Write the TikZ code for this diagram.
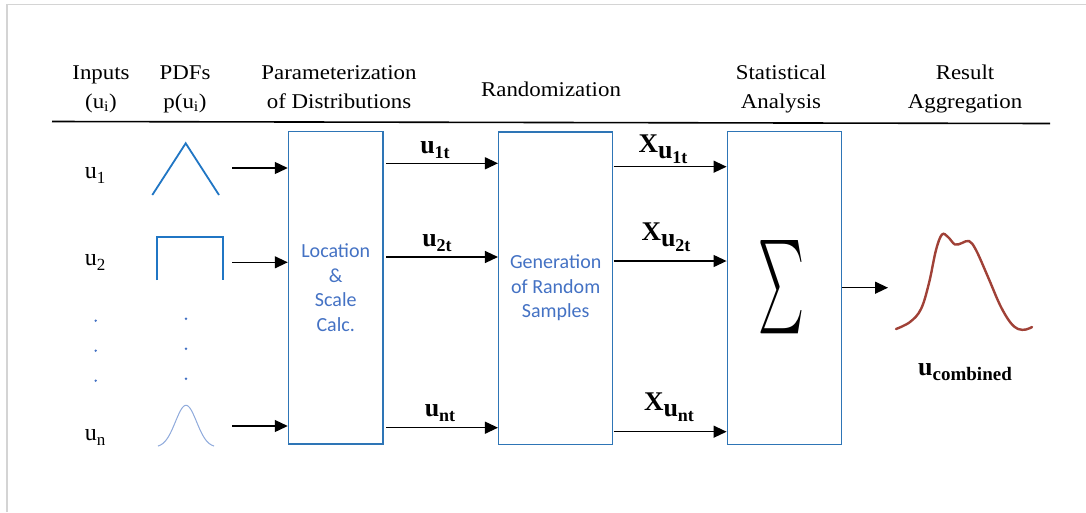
\documentclass[tikz,border=0pt]{standalone}
\usepackage{fontspec}
\usepackage{graphicx}
\setmainfont{Liberation Serif}
\newfontfamily\calfont{Carlito}
\newfontfamily\hdrfont[FakeStretch=1.09]{Liberation Serif}
\usetikzlibrary{arrows.meta}

\definecolor{boxblue}{RGB}{46,117,182}
\definecolor{txtblue}{RGB}{68,114,196}
\definecolor{pdfblue}{RGB}{32,118,196}
\definecolor{gaussblue}{RGB}{143,170,220}
\definecolor{curvered}{RGB}{160,65,55}
\definecolor{framegray}{RGB}{212,212,212}

\tikzset{
  hdr/.style={font=\hdrfont\fontsize{21}{29}\selectfont, align=center, inner sep=0pt},
  blk/.style={draw=boxblue, line width=1.5pt, fill=white, align=center,
    font=\calfont\fontsize{20}{24.6}\selectfont, text=txtblue},
  arr/.style={line width=1.3pt, -{Triangle[length=13pt,width=12pt]}},
  pdf/.style={pdfblue, line width=1.8pt},
  lbl/.style={inner sep=0pt},
  vdot/.style={fill=txtblue, circle, inner sep=0pt, minimum size=2.6pt}
}

% subscripted labels
\newcommand{\ulab}[1]{{\fontsize{24}{24}\selectfont u}\raisebox{-5pt}{\fontsize{17}{17}\selectfont #1}}
\newcommand{\ubold}[1]{{\bfseries\fontsize{26}{26}\selectfont u}\raisebox{-5pt}{\bfseries\fontsize{18}{18}\selectfont #1}}
\newcommand{\xlab}[1]{{\bfseries\fontsize{27}{27}\selectfont X}\raisebox{-6pt}{\ubold{#1}}}

\begin{document}
\begin{tikzpicture}[x=1pt, y=-1pt]
  \useasboundingbox (0,0) rectangle (1086,512);
  \fill[white] (0,0) rectangle (1086,512);
  \draw[framegray, line width=1.2pt] (7,512) -- (7,4.5) -- (1086,4.5);

  % column headings
  \node[hdr] (hIn)   at (101,89)  {Inputs\\(u\textsubscript{i})};
  \node[hdr] (hPdf)  at (185,89)  {PDFs\\p(u\textsubscript{i})};
  \node[hdr] (hPar)  at (339,87)  {Parameterization\\of Distributions};
  \node[hdr] (hRnd)  at (551,89)  {Randomization};
  \node[hdr] (hStat) at (781,89)  {Statistical\\Analysis};
  \node[hdr] (hRes)  at (965,89)  {Result\\Aggregation};
  \draw[line width=1.6pt] (52,121.5) -- (1050,123.5);

  % input labels
  \node[lbl] (u1) at (95,175) {\ulab{1}};
  \node[lbl] (u2) at (95,262) {\ulab{2}};
  \node[lbl] (un) at (95,437) {\ulab{n}};
  \node[vdot] (d1) at (95.7,320.7) {};
  \node[vdot] (d2) at (95.7,350.7) {};
  \node[vdot] (d3) at (95.7,380.7) {};

  % probability density shapes
  \draw[pdf, line join=miter] (152.3,195) -- (185.7,143.3) -- (219,195);
  \draw[pdf] (157.3,280) -- (157.3,237.3) -- (223.3,237.3) -- (223.3,280);
  \node[vdot] (e1) at (186,318.7) {};
  \node[vdot] (e2) at (186,348.7) {};
  \node[vdot] (e3) at (186,378.7) {};
  \draw[gaussblue, line width=1pt] plot[domain=-28:28, samples=60]
    ({186+\x},{447.3-42*exp(-(\x*\x)/(2*10.6*10.6))});

  % processing blocks
  \node[blk, minimum width=94.5pt, minimum height=312.5pt] (b1) at (335.75,287.75)
    {Location\\\&\\Scale\\Calc.};
  \node[blk, minimum width=114pt, minimum height=312.5pt] (b2) at (555.7,288)
    {Generation\\of Random\\Samples};
  \node[blk, minimum width=114.4pt, minimum height=313pt] (b3) at (784.5,288) {};
  \node (sig) at (781,287) {\resizebox{46pt}{70pt}{$\sum$}};

  % inputs into the first block
  \coordinate (s1) at (232,168);
  \coordinate (s2) at (232,262.3);
  \coordinate (sn) at (232,426);
  \draw[arr] (s1) -- (s1 -| b1.west);
  \draw[arr] (s2) -- (s2 -| b1.west);
  \draw[arr] (sn) -- (sn -| b1.west);

  % first block to second block
  \coordinate (t1) at (386,163.3);
  \coordinate (t2) at (386,257);
  \coordinate (tn) at (386,427.7);
  \draw[arr] (t1) -- (t1 -| b2.west);
  \draw[arr] (t2) -- (t2 -| b2.west);
  \draw[arr] (tn) -- (tn -| b2.west);
  \node[lbl] (l1t) at (435,150) {\ubold{1t}};
  \node[lbl] (l2t) at (437,243) {\ubold{2t}};
  \node[lbl] (lnt) at (440,413) {\ubold{nt}};

  % second block to third block
  \coordinate (r1) at (613.5,166.7);
  \coordinate (r2) at (613.5,261);
  \coordinate (rn) at (613.5,431.7);
  \draw[arr] (r1) -- (r1 -| b3.west);
  \draw[arr] (r2) -- (r2 -| b3.west);
  \draw[arr] (rn) -- (rn -| b3.west);
  \node[lbl] (x1) at (663,149) {\xlab{1t}};
  \node[lbl] (x2) at (666,237) {\xlab{2t}};
  \node[lbl] (xn) at (669,407) {\xlab{nt}};

  % aggregated result
  \coordinate (out) at (888,287.7);
  \draw[arr] (out -| b3.east) -- (out);
  \draw[curvered, line width=2.4pt, line cap=round] plot[smooth, tension=0.6] coordinates {
    (896,329) (910,322) (921,309) (929,283) (936,250) (942,234.5) (948,237)
    (955,244.5) (962,243) (969,241) (976,250) (988,277) (1000,305) (1010,322)
    (1018,329) (1026,329.5) (1032,327)};
  \node[lbl] (uc) at (965,371.7) {{\bfseries\fontsize{26}{26}\selectfont u}\raisebox{-5pt}{\bfseries\fontsize{19}{19}\selectfont combined}};
\end{tikzpicture}
\end{document}
